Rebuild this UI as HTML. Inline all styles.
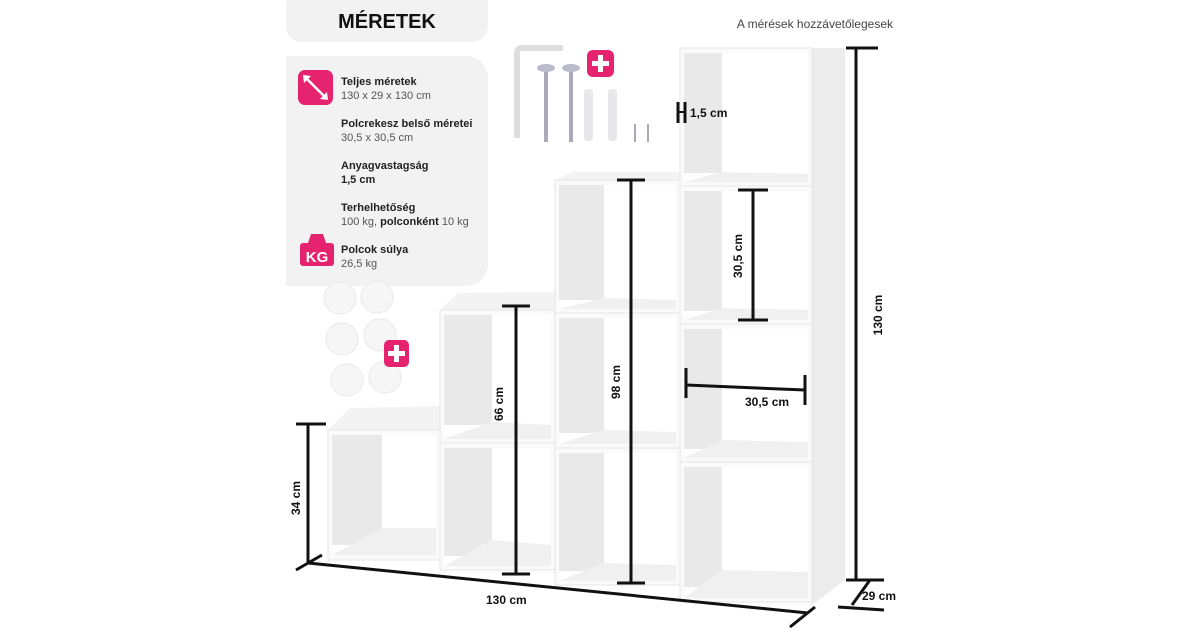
<!DOCTYPE html>
<html><head><meta charset="utf-8"><style>
body{margin:0;background:#fff;}
.w{position:relative;width:1200px;height:630px;overflow:hidden;font-family:"Liberation Sans","DejaVu Sans",sans-serif;}
</style></head><body><div class="w">
<svg width="1200" height="630" viewBox="0 0 1200 630" xmlns="http://www.w3.org/2000/svg" font-family="Liberation Sans, DejaVu Sans, sans-serif">
<rect x="286" y="-10" width="202" height="52" rx="16" fill="#f2f2f2"/>
<text x="387" y="28" text-anchor="middle" font-size="20" font-weight="bold" fill="#111">MÉRETEK</text>
<text x="893" y="28" text-anchor="end" font-size="12" fill="#444">A mérések hozzávetőlegesek</text>
<rect x="286" y="56" width="202" height="230" rx="22" fill="#f2f2f2"/>
<rect x="286" y="56" width="30" height="230" fill="#f2f2f2"/>
<rect x="298" y="70" width="35" height="35" rx="7" fill="#e6236e"/>
<line x1="305" y1="77" x2="326" y2="98" stroke="#fff" stroke-width="2.5"/>
<polygon points="303,75 311,76 304,83" fill="#fff"/><polygon points="328,100 320,99 327,92" fill="#fff"/>
<rect x="300" y="243" width="34" height="23" rx="3" fill="#e6236e"/>
<path d="M308 243 L311 234 L323 234 L326 243 Z" fill="#e6236e"/>
<text x="317" y="262" text-anchor="middle" font-size="15" font-weight="bold" fill="#fff">KG</text>
<g font-size="11" fill="#222">
<text x="341" y="85" font-weight="bold">Teljes méretek</text>
<text x="341" y="99" fill="#555">130 x 29 x 130 cm</text>
<text x="341" y="127" font-weight="bold">Polcrekesz belső méretei</text>
<text x="341" y="141" fill="#555">30,5 x 30,5 cm</text>
<text x="341" y="169" font-weight="bold">Anyagvastagság</text>
<text x="341" y="183" font-weight="bold">1,5 cm</text>
<text x="341" y="211" font-weight="bold">Terhelhetőség</text>
<text x="341" y="225" fill="#555">100 kg, <tspan font-weight="bold" fill="#222">polconként</tspan> 10 kg</text>
<text x="341" y="253" font-weight="bold">Polcok súlya</text>
<text x="341" y="267" fill="#555">26,5 kg</text>
</g>
<g fill="#f6f6f6" stroke="#e8e8e8">
<circle cx="340" cy="298" r="16"/><circle cx="377" cy="297" r="16"/>
<circle cx="342" cy="339" r="16"/><circle cx="380" cy="335" r="16"/>
<circle cx="347" cy="380" r="16"/><circle cx="385" cy="377" r="16"/>
</g>
<rect x="384" y="340" width="25" height="27" rx="5" fill="#e6236e"/>
<rect x="394" y="345" width="5" height="17" fill="#fff"/><rect x="388" y="351" width="17" height="5" fill="#fff"/>
<path d="M563 48 L522 48 Q517 48 517 54 L517 138" fill="none" stroke="#ddd" stroke-width="6"/>
<g stroke="#aab" stroke-width="4"><line x1="546" y1="68" x2="546" y2="142"/><line x1="571" y1="68" x2="571" y2="142"/></g>
<ellipse cx="546" cy="68" rx="9" ry="4" fill="#bbc"/><ellipse cx="571" cy="68" rx="9" ry="4" fill="#bbc"/>
<g fill="#e8e8ea"><rect x="584" y="89" width="9" height="52" rx="3"/><rect x="608" y="89" width="9" height="52" rx="3"/></g>
<g stroke="#aab" stroke-width="2"><line x1="635" y1="124" x2="635" y2="142"/><line x1="648" y1="124" x2="648" y2="142"/></g>
<rect x="587" y="50" width="27" height="27" rx="6" fill="#e6236e"/>
<rect x="598" y="55" width="5" height="17" fill="#fff"/><rect x="592" y="61" width="17" height="5" fill="#fff"/>
<polygon points="812,48 845,48 845,580 812,605" fill="#ececec"/>
<polygon points="328,430 350,408 440,406 440,430" fill="#f3f3f3"/>
<polygon points="440,310 458,293 555,292 555,310" fill="#f3f3f3"/>
<polygon points="555,180 573,172 680,172 680,182" fill="#f3f3f3"/>
<g fill="#fafafa" stroke="#e6e6e6">
<rect x="328" y="430" width="112" height="130"/>
<rect x="440" y="310" width="115" height="133"/><rect x="440" y="443" width="115" height="127"/>
<rect x="555" y="180" width="125" height="133"/><rect x="555" y="313" width="125" height="135"/><rect x="555" y="448" width="125" height="137"/>
<rect x="680" y="48" width="132" height="138"/><rect x="680" y="186" width="132" height="138"/><rect x="680" y="324" width="132" height="138"/><rect x="680" y="462" width="132" height="140"/>
</g>
<g fill="#fff">
<rect x="332" y="435" width="104" height="120"/>
<rect x="444" y="315" width="107" height="124"/><rect x="444" y="448" width="107" height="118"/>
<rect x="559" y="185" width="117" height="124"/><rect x="559" y="318" width="117" height="126"/><rect x="559" y="453" width="117" height="128"/>
<rect x="684" y="53" width="124" height="129"/><rect x="684" y="191" width="124" height="129"/><rect x="684" y="329" width="124" height="129"/><rect x="684" y="467" width="124" height="131"/>
</g>
<g fill="#e9e9e9">
<rect x="332" y="435" width="50" height="110"/>
<rect x="444" y="315" width="48" height="110"/><rect x="444" y="448" width="48" height="108"/>
<rect x="559" y="185" width="45" height="115"/><rect x="559" y="318" width="45" height="115"/><rect x="559" y="453" width="45" height="118"/>
<rect x="684" y="53" width="38" height="120"/><rect x="684" y="191" width="38" height="120"/><rect x="684" y="329" width="38" height="120"/><rect x="684" y="467" width="38" height="120"/>
</g>
<g fill="#f0f0f0">
<polygon points="332,555 382,528 436,528 436,555"/>
<polygon points="444,439 492,422 551,425 551,439"/><polygon points="444,566 492,540 551,545 551,566"/>
<polygon points="559,309 604,298 676,300 676,309"/><polygon points="559,444 604,430 676,432 676,444"/><polygon points="559,581 604,563 676,565 676,581"/>
<polygon points="684,182 722,172 808,174 808,182"/><polygon points="684,320 722,308 808,310 808,320"/><polygon points="684,458 722,440 808,442 808,458"/><polygon points="684,598 722,570 808,572 808,598"/>
</g>
<g stroke="#111" stroke-width="3" fill="none">
<line x1="678" y1="102" x2="678" y2="123"/><line x1="685" y1="102" x2="685" y2="123"/><line x1="678" y1="112" x2="685" y2="112" stroke-width="2"/>
<line x1="631" y1="180" x2="631" y2="583"/><line x1="617" y1="180" x2="645" y2="180"/><line x1="617" y1="583" x2="645" y2="583"/>
<line x1="753" y1="190" x2="753" y2="320"/><line x1="738" y1="190" x2="768" y2="190"/><line x1="738" y1="320" x2="768" y2="320"/>
<line x1="686" y1="385" x2="805" y2="390"/><line x1="686" y1="368" x2="686" y2="398"/><line x1="805" y1="375" x2="805" y2="405"/>
<line x1="516" y1="306" x2="516" y2="574"/><line x1="502" y1="306" x2="530" y2="306"/><line x1="502" y1="574" x2="530" y2="574"/>
<line x1="308" y1="424" x2="308" y2="563"/><line x1="296" y1="424" x2="326" y2="424"/>
<line x1="296" y1="570" x2="322" y2="555"/>
<line x1="308" y1="563" x2="808" y2="613"/><line x1="790" y1="627" x2="815" y2="607"/>
<line x1="856" y1="48" x2="856" y2="580"/><line x1="846" y1="48" x2="878" y2="48"/><line x1="846" y1="580" x2="884" y2="580"/>
<line x1="838" y1="607" x2="884" y2="610"/><line x1="852" y1="605" x2="870" y2="580"/>
</g>
<g font-size="12" font-weight="bold" fill="#111">
<text x="690" y="117">1,5 cm</text>
<text x="745" y="406">30,5 cm</text>
<text x="486" y="604">130 cm</text>
<text x="862" y="600">29 cm</text>
<text transform="translate(620,382) rotate(-90)" text-anchor="middle">98 cm</text>
<text transform="translate(742,256) rotate(-90)" text-anchor="middle">30,5 cm</text>
<text transform="translate(503,404) rotate(-90)" text-anchor="middle">66 cm</text>
<text transform="translate(300,498) rotate(-90)" text-anchor="middle">34 cm</text>
<text transform="translate(882,315) rotate(-90)" text-anchor="middle">130 cm</text>
</g>
</svg>
</div></body></html>
